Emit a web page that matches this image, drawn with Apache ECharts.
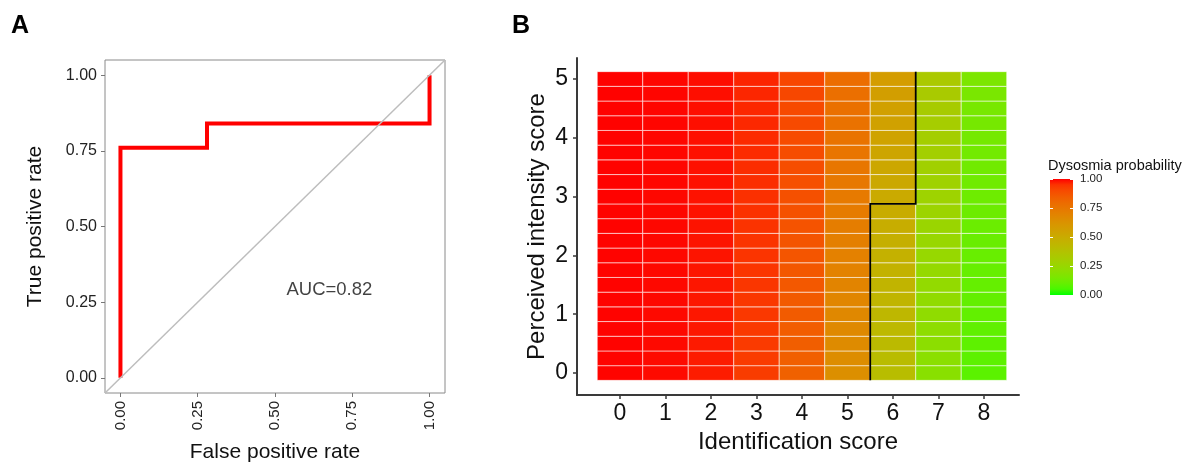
<!DOCTYPE html>
<html><head><meta charset="utf-8">
<script src="https://cdn.jsdelivr.net/npm/echarts@6/dist/echarts.min.js"></script>
<style>html,body{margin:0;padding:0;background:#fff}#c{width:1193px;height:468px}</style>
</head><body><div id="c"></div>
<script>
// ---------- Panel A: ROC curve ----------
const rocFPR = [0, 0, 0.28, 0.28, 1.00, 1.00];
const rocTPR = [0, 0.76, 0.76, 0.84, 0.84, 1.00];
const rocTicks = [0, 0.25, 0.5, 0.75, 1];
const rocAxisRange = [-0.05, 1.05];
const aucText = 'AUC=0.82';
const aucAnchor = [0.676, 0.29];

// ---------- Panel B: heatmap ----------
const identificationScores = [0, 1, 2, 3, 4, 5, 6, 7, 8];
const intensityLevels = [0, 0.25, 0.5, 0.75, 1, 1.25, 1.5, 1.75, 2, 2.25, 2.5, 2.75, 3, 3.25, 3.5, 3.75, 4, 4.25, 4.5, 4.75, 5];
const intensityTicks = [0, 1, 2, 3, 4, 5];
// dysosmia probability per identification score, rows ordered by intensity level (0 -> 5)
const probId0 = [0.996,0.996,0.997,0.997,0.997,0.997,0.997,0.997,0.997,0.997,0.997,0.997,0.998,0.998,0.998,0.998,0.998,0.998,0.998,0.998,0.998];
const probId1 = [0.990,0.990,0.991,0.991,0.991,0.992,0.992,0.992,0.992,0.993,0.993,0.993,0.993,0.994,0.994,0.994,0.994,0.995,0.995,0.995,0.995];
const probId2 = [0.973,0.974,0.975,0.976,0.977,0.977,0.978,0.979,0.980,0.980,0.981,0.982,0.982,0.983,0.984,0.984,0.985,0.985,0.986,0.986,0.987];
const probId3 = [0.930,0.933,0.935,0.937,0.939,0.941,0.943,0.945,0.947,0.948,0.950,0.952,0.953,0.955,0.956,0.958,0.959,0.961,0.962,0.963,0.965];
const probId4 = [0.831,0.836,0.840,0.845,0.850,0.854,0.859,0.863,0.867,0.871,0.875,0.879,0.883,0.886,0.890,0.893,0.897,0.900,0.903,0.906,0.909];
const probId5 = [0.643,0.652,0.660,0.668,0.675,0.683,0.691,0.698,0.706,0.713,0.720,0.728,0.735,0.742,0.748,0.755,0.762,0.768,0.774,0.780,0.786];
const probId6 = [0.399,0.408,0.416,0.425,0.434,0.442,0.451,0.460,0.469,0.478,0.487,0.496,0.505,0.514,0.522,0.531,0.540,0.549,0.558,0.567,0.575];
const probId7 = [0.196,0.202,0.208,0.214,0.220,0.226,0.232,0.239,0.245,0.252,0.259,0.266,0.273,0.280,0.287,0.294,0.302,0.309,0.317,0.325,0.333];
const probId8 = [0.082,0.085,0.088,0.091,0.094,0.097,0.100,0.103,0.107,0.110,0.114,0.117,0.121,0.125,0.129,0.133,0.137,0.141,0.146,0.150,0.155];
const probByScore = [probId0, probId1, probId2, probId3, probId4, probId5, probId6, probId7, probId8];
// 0.5 decision boundary
const boundaryX = [5.5, 5.5, 6.5, 6.5];
const boundaryY = [-0.125, 2.875, 2.875, 5.125];
const legendTicks = [0, 0.25, 0.5, 0.75, 1];
const legendTitle = 'Dysosmia probability';

// ---------- colour scale (green -> red, interpolated in CIE Lab) ----------
function s2l(c){c/=255;return c<=0.04045?c/12.92:Math.pow((c+0.055)/1.055,2.4);}
function l2s(c){c=Math.max(0,Math.min(1,c));return Math.round(255*(c<=0.0031308?12.92*c:1.055*Math.pow(c,1/2.4)-0.055));}
function rgbToLab(rgb){
  const r=s2l(rgb[0]),g=s2l(rgb[1]),b=s2l(rgb[2]);
  const X=(0.4124*r+0.3576*g+0.1805*b)/0.95047,Y=0.2126*r+0.7152*g+0.0722*b,Z=(0.0193*r+0.1192*g+0.9505*b)/1.08883;
  const f=t=>t>0.008856?Math.cbrt(t):7.787*t+16/116;
  const fx=f(X),fy=f(Y),fz=f(Z);
  return [116*fy-16,500*(fx-fy),200*(fy-fz)];
}
function labToRgb(lab){
  const fy=(lab[0]+16)/116,fx=fy+lab[1]/500,fz=fy-lab[2]/200;
  const fi=t=>t>0.206893?t*t*t:(t-16/116)/7.787;
  const X=0.95047*fi(fx),Y=fi(fy),Z=1.08883*fi(fz);
  const r=3.2406*X-1.5372*Y-0.4986*Z,g=-0.9689*X+1.8758*Y+0.0415*Z,b=0.0557*X-0.2040*Y+1.0570*Z;
  return 'rgb('+l2s(r)+','+l2s(g)+','+l2s(b)+')';
}
const lowLab = rgbToLab([0,255,0]), highLab = rgbToLab([255,0,0]);
const nStops = 21;
const scaleColors = [], gradStops = [];
for (let i = 0; i < nStops; i++) {
  const t = i/(nStops-1);
  const c = labToRgb([0,1,2].map(k => lowLab[k] + t*(highLab[k]-lowLab[k])));
  scaleColors.push(c);
  gradStops.push({offset: t, color: c});
}

const heatData = [];
identificationScores.forEach((x, i) => intensityLevels.forEach((y, j) => heatData.push([x, y, probByScore[i][j]])));
const cellW = identificationScores[1]-identificationScores[0];
const cellH = intensityLevels[1]-intensityLevels[0];

const FONT = "'Liberation Sans', Arial, Helvetica, sans-serif";
const chart = echarts.init(document.getElementById('c'), null, {renderer: 'canvas'});
chart.setOption({
  animation: false,
  backgroundColor: '#fff',
  textStyle: {fontFamily: FONT},
  title: [
    {text: 'A', left: 11, top: 14, padding: 0, textStyle: {fontSize: 25, fontWeight: 'bold', color: '#000', fontFamily: FONT}},
    {text: 'B', left: 512, top: 14, padding: 0, textStyle: {fontSize: 25, fontWeight: 'bold', color: '#000', fontFamily: FONT}},
    {text: legendTitle, left: 1048, top: 158, padding: 0, textStyle: {fontSize: 14.5, fontWeight: 'normal', color: '#111', fontFamily: FONT}}
  ],
  grid: [
    {left: 105, top: 60, width: 340, height: 338, show: true, borderColor: '#8a8a8a', borderWidth: 1, backgroundColor: '#fff'},
    {left: 577, top: 58, width: 442, height: 337},
    {left: 1050, top: 179, width: 23, height: 116}
  ],
  visualMap: [{
    show: false, type: 'continuous', min: 0, max: 1, dimension: 2, seriesIndex: 3,
    inRange: {color: scaleColors}
  }],
  xAxis: [
    {gridIndex: 0, type: 'value', min: rocAxisRange[0], max: rocAxisRange[1],
     axisLine: {show: false, onZero: false},
     axisTick: {show: true, customValues: rocTicks, length: 4, lineStyle: {color: '#777'}},
     axisLabel: {customValues: rocTicks, rotate: 90, margin: 8, fontSize: 15, color: '#222', formatter: v => v.toFixed(2)},
     splitLine: {show: false},
     name: 'False positive rate', nameLocation: 'middle', nameGap: 49, nameTextStyle: {fontSize: 21, color: '#111'}},
    {gridIndex: 1, type: 'value', min: -0.945, max: 8.77,
     axisLine: {show: true, onZero: false, lineStyle: {color: '#3a3a3a', width: 2}},
     axisTick: {show: true, customValues: identificationScores, length: 4, lineStyle: {color: '#3a3a3a', width: 1.5}},
     axisLabel: {customValues: identificationScores, margin: 7, fontSize: 23, color: '#111'},
     splitLine: {show: false},
     name: 'Identification score', nameLocation: 'middle', nameGap: 34, nameTextStyle: {fontSize: 24, color: '#111'}},
    {gridIndex: 2, type: 'category', data: ['p'], show: false}
  ],
  yAxis: [
    {gridIndex: 0, type: 'value', min: rocAxisRange[0], max: rocAxisRange[1],
     axisLine: {show: false, onZero: false},
     axisTick: {show: true, customValues: rocTicks, length: 4, lineStyle: {color: '#777'}},
     axisLabel: {customValues: rocTicks, margin: 8, fontSize: 16, color: '#222', formatter: v => v.toFixed(2)},
     splitLine: {show: false},
     name: 'True positive rate', nameLocation: 'middle', nameGap: 59, nameTextStyle: {fontSize: 21, color: '#111'}},
    {gridIndex: 1, type: 'value', min: -0.374, max: 5.357,
     axisLine: {show: true, onZero: false, lineStyle: {color: '#3a3a3a', width: 2}},
     axisTick: {show: true, customValues: intensityTicks, length: 4, lineStyle: {color: '#3a3a3a', width: 1.5}},
     axisLabel: {customValues: intensityTicks, margin: 9, fontSize: 23, color: '#111'},
     splitLine: {show: false},
     name: 'Perceived intensity score', nameLocation: 'middle', nameGap: 28, nameTextStyle: {fontSize: 24, color: '#111'}},
    {gridIndex: 2, type: 'value', min: 0, max: 1, interval: 0.25, position: 'right', z: 10,
     axisLine: {show: false},
     axisTick: {show: true, inside: true, length: 3, lineStyle: {color: '#fff', width: 1}},
     axisLabel: {margin: 7, fontSize: 11.5, color: '#222', formatter: v => v.toFixed(2)},
     splitLine: {show: false}},
    {gridIndex: 2, type: 'value', min: 0, max: 1, interval: 0.25, position: 'left', z: 10,
     axisLine: {show: false},
     axisTick: {show: true, inside: true, length: 3, lineStyle: {color: '#fff', width: 1}},
     axisLabel: {show: false},
     splitLine: {show: false}}
  ],
  series: [
    {type: 'line', xAxisIndex: 0, yAxisIndex: 0, symbol: 'none', silent: true, z: 3,
     data: rocFPR.map((x, i) => [x, rocTPR[i]]),
     lineStyle: {color: '#ff0000', width: 4, join: 'miter', cap: 'butt'}},
    {type: 'line', xAxisIndex: 0, yAxisIndex: 0, symbol: 'none', silent: true, z: 4,
     data: [[rocAxisRange[0], rocAxisRange[0]], [rocAxisRange[1], rocAxisRange[1]]],
     lineStyle: {color: '#bdbdbd', width: 1.5}},
    {type: 'scatter', xAxisIndex: 0, yAxisIndex: 0, symbolSize: 1, silent: true, z: 5,
     itemStyle: {color: 'rgba(0,0,0,0)'},
     data: [aucAnchor],
     label: {show: true, position: 'inside', formatter: aucText, fontSize: 18.5, color: '#111', fontFamily: FONT}},
    {type: 'custom', xAxisIndex: 1, yAxisIndex: 1, clip: false, silent: true, z: 2,
     encode: {x: 0, y: 1},
     data: heatData,
     renderItem: function (params, api) {
       const x = api.value(0), y = api.value(1);
       const p0 = api.coord([x - cellW/2, y + cellH/2]);
       const p1 = api.coord([x + cellW/2, y - cellH/2]);
       return {type: 'rect',
         shape: {x: p0[0], y: p0[1], width: p1[0]-p0[0], height: p1[1]-p0[1]},
         style: {fill: api.visual('color'), stroke: 'rgba(255,255,255,0.55)', lineWidth: 1}};
     }},
    {type: 'line', xAxisIndex: 1, yAxisIndex: 1, symbol: 'none', silent: true, z: 6,
     data: boundaryX.map((x, i) => [x, boundaryY[i]]),
     lineStyle: {color: '#000', width: 1.8, join: 'miter'}},
    {type: 'bar', xAxisIndex: 2, yAxisIndex: 2, barWidth: '100%', silent: true, z: 2,
     data: [legendTicks[legendTicks.length-1]],
     itemStyle: {color: new echarts.graphic.LinearGradient(0, 1, 0, 0, gradStops)}}
  ]
});
</script></body></html>
